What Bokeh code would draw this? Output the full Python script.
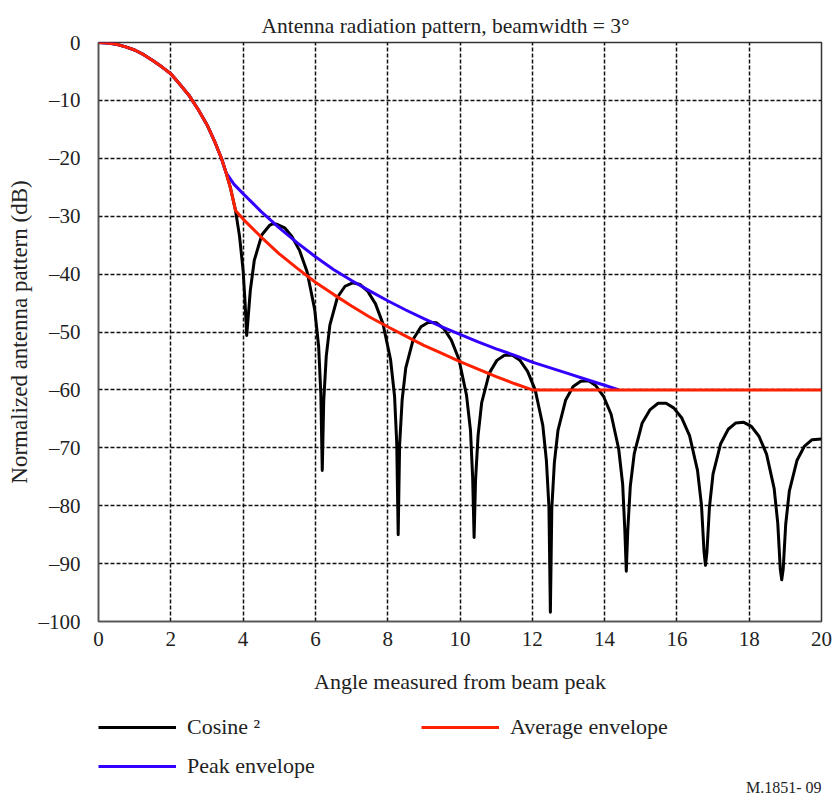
from bokeh.plotting import figure
from bokeh.layouts import column
from bokeh.models import Range1d, FixedTicker, Legend, LegendItem, Label
from bokeh.core.properties import value
from bokeh.embed import file_html
from bokeh.resources import INLINE

TITLE = "Antenna radiation pattern, beamwidth = 3°"
X_LABEL = "Angle measured from beam peak"
Y_LABEL = "Normalized antenna pattern (dB)"
NOTE = "M.1851- 09"

x_ticks = [0, 2, 4, 6, 8, 10, 12, 14, 16, 18, 20]
y_ticks = [0, -10, -20, -30, -40, -50, -60, -70, -80, -90, -100]
y_tick_labels = ["0", "–10", "–20", "–30", "–40", "–50", "–60", "–70", "–80", "–90", "–100"]

# main lobe (shared by the three curves)
main_x = [0, 0.25, 0.5, 0.75, 1.0, 1.25, 1.5, 1.75, 2.0, 2.25, 2.5, 2.75, 3.0, 3.2, 3.4, 3.53, 3.65, 3.79]
main_db = [0, -0.1, -0.3, -0.75, -1.3, -2.1, -3.1, -4.2, -5.4, -7.2, -9.1, -11.5, -14.2, -16.9, -20.0, -22.5, -25.1, -29.0]

# Cosine^2 pattern beyond the main lobe, lobe by lobe (each ends at a null)
lobe0_x = [3.9, 4.0, 4.05, 4.10]
lobe0_db = [-33.4, -39.3, -44.4, -50.6]
lobe1_x = [4.20, 4.31, 4.52, 4.73, 4.83, 4.94, 5.15, 5.35, 5.56, 5.77, 5.98, 6.09, 6.15, 6.19]
lobe1_db = [-42.8, -37.6, -33.2, -31.6, -31.3, -31.4, -32.0, -33.5, -35.9, -39.6, -46.1, -52.5, -60.6, -73.9]
lobe2_x = [6.23, 6.30, 6.40, 6.61, 6.82, 7.03, 7.24, 7.45, 7.66, 7.87, 8.08, 8.19, 8.25, 8.29]
lobe2_db = [-61.9, -54.2, -48.8, -44.0, -42.1, -41.5, -41.8, -43.0, -45.1, -48.6, -54.8, -61.1, -69.2, -85.0]
lobe3_x = [8.33, 8.40, 8.50, 8.71, 8.92, 9.13, 9.34, 9.55, 9.76, 9.97, 10.18, 10.29, 10.35, 10.39]
lobe3_db = [-69.4, -61.7, -56.2, -51.2, -49.1, -48.3, -48.4, -49.4, -51.4, -54.7, -60.9, -67.0, -75.1, -85.5]
lobe4_x = [10.43, 10.50, 10.60, 10.81, 11.02, 11.23, 11.45, 11.66, 11.87, 12.08, 12.29, 12.39, 12.46, 12.50]
lobe4_db = [-75.6, -67.9, -62.2, -57.1, -54.9, -54.0, -54.0, -54.9, -56.8, -60.0, -66.1, -72.2, -80.2, -98.4]
lobe5_x = [12.54, 12.61, 12.71, 12.92, 13.13, 13.34, 13.55, 13.76, 13.97, 14.18, 14.39, 14.50, 14.56, 14.60]
lobe5_db = [-80.4, -72.6, -67.0, -61.8, -59.4, -58.5, -58.4, -59.3, -61.1, -64.2, -70.2, -76.3, -84.3, -91.3]
lobe6_x = [14.64, 14.71, 14.82, 15.04, 15.26, 15.48, 15.70, 15.91, 16.13, 16.35, 16.57, 16.68, 16.75, 16.79]
lobe6_db = [-84.4, -76.7, -71.0, -65.7, -63.4, -62.3, -62.3, -63.1, -64.8, -67.9, -73.9, -79.9, -87.9, -90.3]
lobe7_x = [16.83, 16.90, 17.00, 17.21, 17.42, 17.63, 17.85, 18.06, 18.27, 18.48, 18.69, 18.79, 18.86, 18.90]
lobe7_db = [-88.1, -80.3, -74.5, -69.3, -66.8, -65.7, -65.6, -66.3, -68.0, -71.1, -77.0, -83.0, -91.0, -92.8]
lobe8_x = [18.94, 19.01, 19.11, 19.32, 19.53, 19.74, 20.0]
lobe8_db = [-91.0, -83.2, -77.5, -72.2, -69.7, -68.6, -68.5]

# Peak envelope beyond the main lobe
peak_x = [3.75, 4.0, 4.5, 5.0, 5.5, 6.0, 6.5, 7.0, 7.5, 8.0, 8.5, 9.0, 9.5, 10.0, 10.5, 11.0, 11.5, 12.0, 12.5, 13.0, 13.5, 14.0, 14.4]
peak_db = [-24.5, -26.1, -29.2, -32.0, -34.6, -37.0, -39.2, -41.1, -42.9, -44.6, -46.2, -47.7, -49.1, -50.4, -51.7, -52.9, -54.0, -55.2, -56.2, -57.2, -58.2, -59.2, -60.0]

# Average envelope beyond the main lobe
avg_x = [4.0, 4.5, 5.0, 5.5, 6.0, 6.5, 7.0, 7.5, 8.0, 8.5, 9.0, 9.5, 10.0, 10.5, 11.0, 11.5, 12.0, 20.0]
avg_db = [-30.5, -33.6, -36.5, -39.0, -41.4, -43.5, -45.5, -47.4, -49.1, -50.7, -52.3, -53.7, -55.1, -56.4, -57.7, -58.9, -60.0, -60.0]

cos_x = main_x + lobe0_x + lobe1_x + lobe2_x + lobe3_x + lobe4_x + lobe5_x + lobe6_x + lobe7_x + lobe8_x
cos_db = main_db + lobe0_db + lobe1_db + lobe2_db + lobe3_db + lobe4_db + lobe5_db + lobe6_db + lobe7_db + lobe8_db
pk_x = main_x[:-2] + peak_x
pk_db = main_db[:-2] + peak_db
av_x = main_x + avg_x
av_db = main_db + avg_db

FONT = "Liberation Serif"
TXT = "#222222"
C_COS, C_PEAK, C_AVG = "black", "#3300ff", "#ff2000"

p = figure(width=834, height=703, output_backend="svg", toolbar_location=None,
           x_range=Range1d(0, 20), y_range=Range1d(-100, 0),
           min_border_left=98, min_border_right=13, min_border_top=42, min_border_bottom=82,
           background_fill_color="white", border_fill_color="white")

p.title.text = TITLE
p.title.text_font = FONT
p.title.text_font_size = "21.5px"
p.title.text_font_style = "normal"
p.title.text_color = TXT
p.title.align = "left"
p.title.offset = 163
p.title.standoff = 10

p.xaxis.ticker = FixedTicker(ticks=x_ticks)
p.yaxis.ticker = FixedTicker(ticks=y_ticks)
p.yaxis.major_label_overrides = {t: s for t, s in zip(y_ticks, y_tick_labels)}
p.xaxis.axis_label = X_LABEL
p.yaxis.axis_label = Y_LABEL
for ax in (p.xaxis[0], p.yaxis[0]):
    ax.axis_label_text_font = FONT
    ax.axis_label_text_font_style = "normal"
    ax.axis_label_text_color = TXT
    ax.major_label_text_font = FONT
    ax.major_label_text_font_size = "21px"
    ax.major_label_text_color = TXT
    ax.major_tick_line_color = None
    ax.minor_tick_line_color = None
    ax.major_tick_out = 0
    ax.major_tick_in = 0
    ax.minor_tick_out = 0
    ax.axis_line_color = "#555555"
    ax.axis_line_width = 1.5
p.xaxis.axis_label_text_font_size = "22px"
p.yaxis.axis_label_text_font_size = "23px"
p.xaxis.major_label_standoff = 10
p.xaxis.axis_label_standoff = 20
p.yaxis.major_label_standoff = 18
p.yaxis.axis_label_standoff = 4

p.xgrid.ticker = FixedTicker(ticks=x_ticks)
p.ygrid.ticker = FixedTicker(ticks=y_ticks)
p.grid.grid_line_color = "#111111"
p.grid.grid_line_width = 1.5
p.grid.grid_line_dash = "4 2"
p.outline_line_color = "#333333"
p.outline_line_width = 1.5

p.line(cos_x, cos_db, line_color=C_COS, line_width=3, line_join="round")
p.line(pk_x, pk_db, line_color=C_PEAK, line_width=3, line_join="round")
p.line(av_x, av_db, line_color=C_AVG, line_width=3, line_join="round")

# legend strip under the chart (its frame is aligned with the chart's frame);
# the same series are attached here but lie outside this strip's y range
leg_fig = figure(width=834, height=93, output_backend="svg", toolbar_location=None,
                 x_range=Range1d(0, 20), y_range=Range1d(1, 2),
                 x_axis_location=None, y_axis_location=None,
                 min_border=0, outline_line_color=None,
                 background_fill_color="white", border_fill_color="white")
leg_fig.grid.visible = False
k_cos = leg_fig.line(cos_x, cos_db, line_color=C_COS, line_width=3)
k_peak = leg_fig.line(pk_x, pk_db, line_color=C_PEAK, line_width=3)
k_avg = leg_fig.line(av_x, av_db, line_color=C_AVG, line_width=3)

legend = Legend(items=[LegendItem(label=value("Cosine ²"), renderers=[k_cos]),
                       LegendItem(label=value("Peak envelope"), renderers=[k_peak]),
                       LegendItem(label=value("Average envelope"), renderers=[k_avg])],
                orientation="vertical", nrows=2, location=(0, 17),
                padding=0, margin=0, spacing=13, glyph_width=78, glyph_height=26,
                label_height=26, label_width=221, label_standoff=11,
                label_text_font=FONT, label_text_font_size="22px", label_text_color=TXT,
                border_line_alpha=0, background_fill_alpha=0)
leg_fig.add_layout(legend)

note = Label(x=723, y=9, x_units="screen", y_units="screen", text=NOTE,
             text_align="right", text_baseline="middle", text_font=FONT,
             text_font_size="16px", text_color=TXT)
leg_fig.add_layout(note)

page = column(p, leg_fig, spacing=0)
open("out.html", "w").write(file_html(page, INLINE))
